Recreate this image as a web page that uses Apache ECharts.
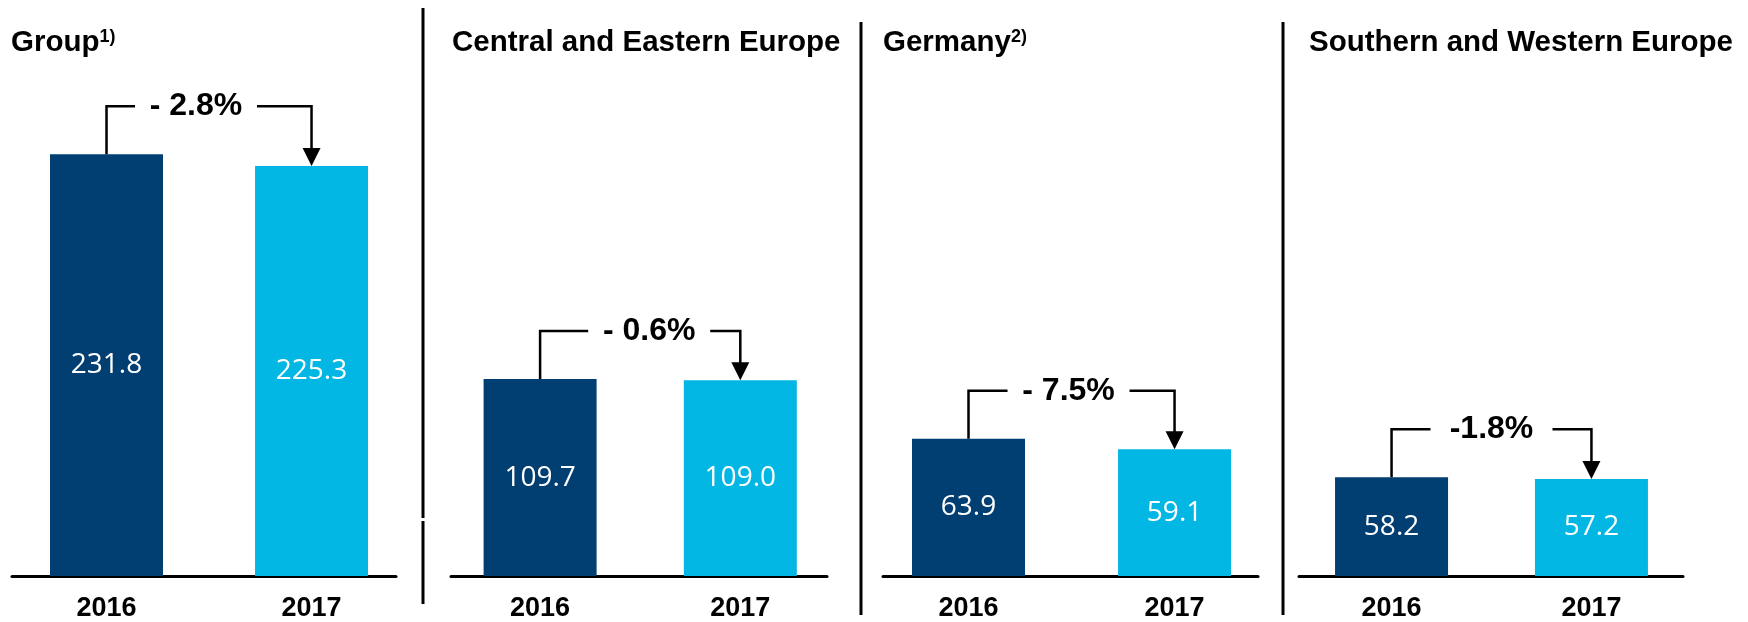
<!DOCTYPE html>
<html>
<head>
<meta charset="utf-8">
<script src="https://cdn.jsdelivr.net/npm/echarts@6/dist/echarts.min.js"></script>
<style>
  html, body { margin: 0; padding: 0; background: #fff; }
  #main { width: 1748px; height: 622px; }
</style>
</head>
<body>
<div id="main"></div>
<script>
// chart data
var titles = ['Group', 'Central and Eastern Europe', 'Germany', 'Southern and Western Europe'];
var titleNotes = ['1)', '', '2)', ''];
var years = ['2016', '2017'];
var values2016 = [231.8, 109.7, 63.9, 58.2];
var values2017 = [225.3, 109.0, 59.1, 57.2];
var changeLabels = ['- 2.8%', '- 0.6%', '- 7.5%', '-1.8%'];

// layout of the four panels (pixels / axis extents)
var panels = [
  {left: 12, width: 384, xMin: -0.461, xMax: 1.412, yMax: 272.6, titleX: 11, titleY: 28, shift: -13},
  {left: 451, width: 376, xMin: -0.445, xMax: 1.433, yMax: 276.3, titleX: 452, titleY: 28, shift: 9},
  {left: 883, width: 375, xMin: -0.415, xMax: 1.405, yMax: 231.1, titleX: 883, titleY: 28, shift: -3},
  {left: 1299, width: 384, xMin: -0.463, xMax: 1.458, yMax: 292.4, titleX: 1309, titleY: 28, shift: 0}
];

var DARK = '#013E72';
var LIGHT = '#02B7E4';
var FONT = '"Liberation Sans", Arial, sans-serif';

var grid = [], xAxis = [], yAxis = [], series = [], title = [];

panels.forEach(function (p, i) {
  grid.push({left: p.left, width: p.width, top: 80, bottom: 40});
  xAxis.push({
    type: 'value', gridIndex: i, min: p.xMin, max: p.xMax,
    splitLine: {show: false},
    axisTick: {show: false},
    axisLine: {show: true, lineStyle: {color: '#000', width: 3}},
    axisLabel: {
      customValues: [0, 1],
      margin: 19,
      formatter: function (v) { return years[Math.round(v)]; },
      color: '#000', fontFamily: FONT, fontWeight: 'bold', fontSize: 27
    }
  });
  yAxis.push({type: 'value', gridIndex: i, min: 0, max: p.yMax, show: false});

  title.push({
    text: '{t|' + titles[i] + '}' + (titleNotes[i] ? '{s|' + titleNotes[i] + '}' : ''),
    left: p.titleX, top: p.titleY, padding: 0,
    textStyle: {
      rich: {
        t: {fontFamily: FONT, fontWeight: 'bold', fontSize: 29.5, color: '#000'},
        s: {fontFamily: FONT, fontWeight: 'bold', fontSize: 18, color: '#000', verticalAlign: 'top'}
      }
    }
  });

  series.push({
    type: 'bar', xAxisIndex: i, yAxisIndex: i, barWidth: 113,
    data: [
      {value: [0, values2016[i]], itemStyle: {color: DARK}},
      {value: [1, values2017[i]], itemStyle: {color: LIGHT}}
    ],
    label: {
      show: true, position: 'inside', color: '#fff',
      fontFamily: '"Open Sans", sans-serif', fontSize: 28,
      formatter: function (d) { return d.value[1].toFixed(1); }
    }
  });

  // bracket with arrow between the two bars
  series.push({
    type: 'custom', xAxisIndex: i, yAxisIndex: i, clip: false, z: 5,
    encode: {x: 0, y: 1},
    data: [[0, values2016[i], values2017[i]]],
    renderItem: function (params, api) {
      var k = params.seriesIndex >> 1;
      var a = api.coord([0, api.value(1)]);
      var b = api.coord([1, api.value(2)]);
      var top = Math.min(a[1], b[1]) - 48;
      var cx = (a[0] + b[0]) / 2 + panels[k].shift;
      var gap = 61;
      var st = {stroke: '#000', lineWidth: 2.5, fill: null};
      return {
        type: 'group',
        children: [
          {type: 'polyline', shape: {points: [[a[0], a[1]], [a[0], top], [cx - gap, top]]}, style: st},
          {type: 'polyline', shape: {points: [[cx + gap, top], [b[0], top], [b[0], b[1] - 17]]}, style: st},
          {type: 'polygon', shape: {points: [[b[0] - 9, b[1] - 18], [b[0] + 9, b[1] - 18], [b[0], b[1]]]}, style: {fill: '#000'}},
          {type: 'text', style: {text: changeLabels[k], x: cx, y: top,
            align: 'center', verticalAlign: 'middle', fill: '#000',
            font: 'bold 32px ' + FONT}}
        ]
      };
    }
  });
});

var chart = echarts.init(document.getElementById('main'));
chart.setOption({
  animation: false,
  title: title,
  grid: grid,
  xAxis: xAxis,
  yAxis: yAxis,
  series: series,
  graphic: [
    {type: 'line', shape: {x1: 423, y1: 8, x2: 423, y2: 518}, style: {stroke: '#000', lineWidth: 3}},
    {type: 'line', shape: {x1: 423, y1: 521, x2: 423, y2: 604}, style: {stroke: '#000', lineWidth: 3}},
    {type: 'line', shape: {x1: 861, y1: 22, x2: 861, y2: 615}, style: {stroke: '#000', lineWidth: 3}},
    {type: 'line', shape: {x1: 1283, y1: 22, x2: 1283, y2: 615}, style: {stroke: '#000', lineWidth: 3}}
  ]
});
</script>
</body>
</html>
